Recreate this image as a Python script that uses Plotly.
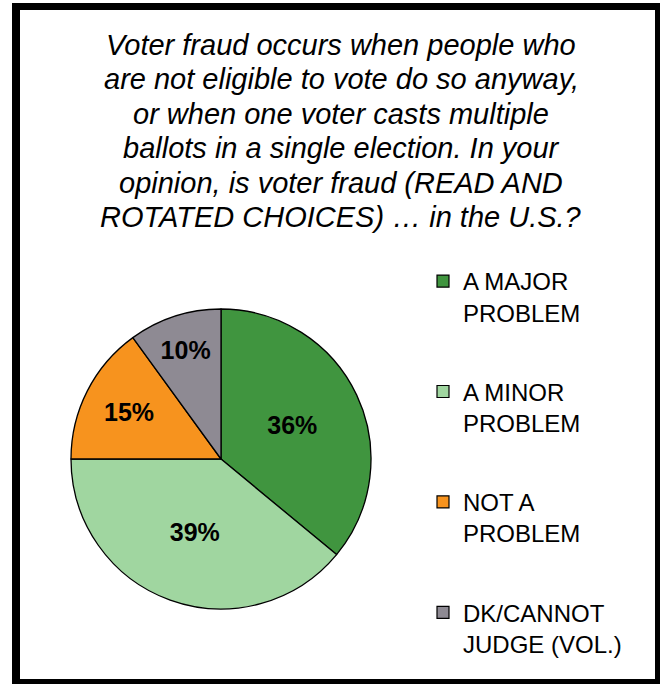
import plotly.graph_objects as go

W, H = 667, 684

categories = ["A MAJOR<br>PROBLEM", "A MINOR<br>PROBLEM", "NOT A<br>PROBLEM", "DK/CANNOT<br>JUDGE (VOL.)"]
values = [36, 39, 15, 10]
colors = ["#40953F", "#A0D6A0", "#F7931E", "#8E8A93"]
title_lines = [
    "Voter fraud occurs when people who",
    "are not eligible to vote do so anyway,",
    "or when one voter casts multiple",
    "ballots in a single election. In your",
    "opinion, is voter fraud (READ AND",
    "ROTATED CHOICES) \u2026 in the U.S.?",
]

def px(x):
    return x / W

def py(y):
    return 1 - y / H

fig = go.Figure()

fig.add_trace(go.Pie(
    labels=categories,
    values=values,
    marker=dict(colors=colors, line=dict(color="black", width=1.3)),
    sort=False,
    direction="clockwise",
    rotation=0,
    texttemplate="%{value}%",
    textposition="inside",
    insidetextorientation="horizontal",
    textfont=dict(family="Liberation Sans, Arial", size=25, color="black", weight="bold"),
    domain=dict(x=[px(71), px(371)], y=[py(609), py(309)]),
    showlegend=False,
    hoverinfo="label+percent",
))

for i, (lab, col) in enumerate(zip(categories, colors)):
    fig.add_trace(go.Scatter(
        x=[None], y=[None], mode="markers", name=lab,
        legendgroup=f"g{i}",
        marker=dict(symbol="square", size=12, color=col, line=dict(color="black", width=1.2)),
        showlegend=True,
    ))

annotations = []
for i, line in enumerate(title_lines):
    annotations.append(dict(
        text=line,
        x=px(341), y=py(45 + 34.4 * i), xref="paper", yref="paper",
        xanchor="center", yanchor="middle", showarrow=False, align="center",
        font=dict(family="Liberation Sans, Arial", size=29, color="black", style="italic"),
    ))

fig.update_layout(
    width=W, height=H,
    margin=dict(l=0, r=0, t=0, b=0),
    paper_bgcolor="white",
    plot_bgcolor="rgba(0,0,0,0)",
    xaxis=dict(visible=False),
    yaxis=dict(visible=False),
    legend=dict(
        x=px(423), y=py(259), xanchor="left", yanchor="top",
        font=dict(family="Liberation Sans, Arial", size=24, color="black"),
        traceorder="grouped",
        tracegroupgap=45,
        valign="top",
        itemclick=False,
        bgcolor="rgba(0,0,0,0)",
    ),
    annotations=annotations,
    shapes=[
        dict(type="rect", xref="paper", yref="paper", x0=px(12), x1=px(660), y0=py(690), y1=py(3),
             fillcolor="black", line=dict(width=0), layer="below"),
        dict(type="rect", xref="paper", yref="paper", x0=px(20), x1=px(655), y0=py(679), y1=py(10),
             fillcolor="white", line=dict(width=0), layer="below"),
    ],
)

fig.write_html("out.html", config={"displayModeBar": False},
               post_script="document.body.style.margin='0';")
